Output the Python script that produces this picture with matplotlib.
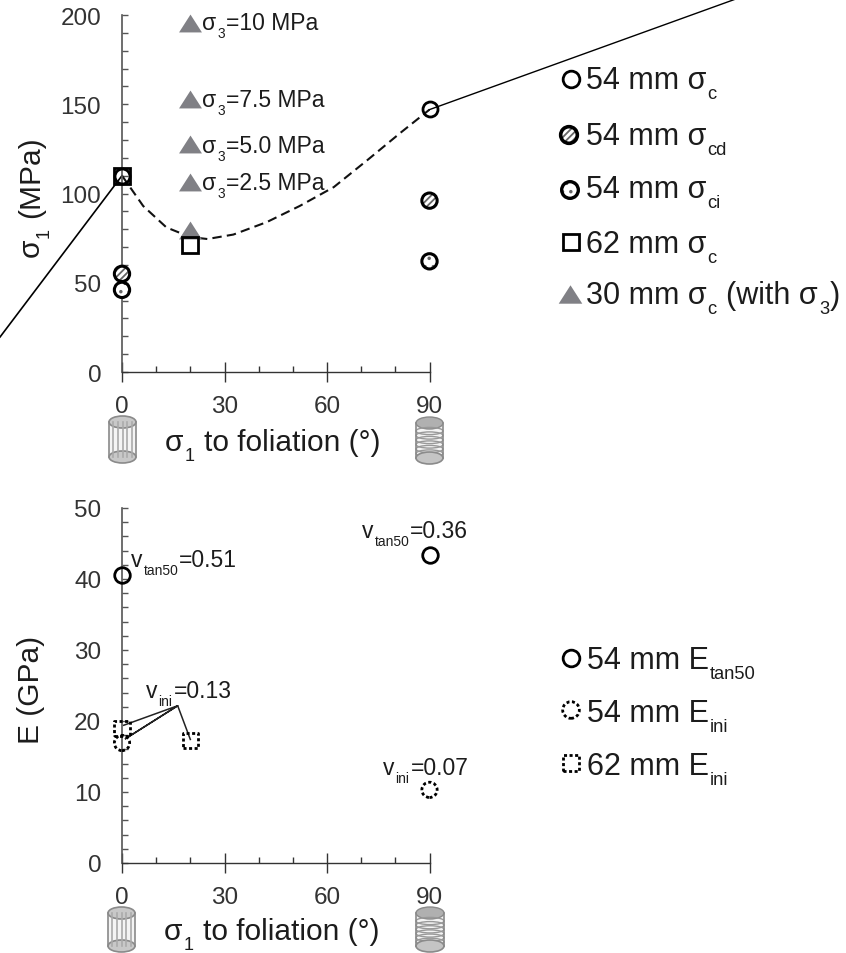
import matplotlib
matplotlib.use('Agg')
import numpy as np
import matplotlib.pyplot as plt
from matplotlib.patches import Ellipse, Rectangle
from matplotlib.ticker import MultipleLocator

plt.rcParams['font.family'] = ['Liberation Sans', 'DejaVu Sans']
plt.rcParams['hatch.linewidth'] = 1.3

# upper panel
s_c_54_x = [0, 90]
s_c_54_y = [110, 147.5]
s_cd_54_x = [0, 90]
s_cd_54_y = [55, 96]
s_ci_54_x = [0, 90]
s_ci_54_y = [46, 62]
s_c_62_x = [0, 20]
s_c_62_y = [110, 71]
tri_x = [20, 20, 20, 20, 20]
tri_y = [79.6, 106.7, 128, 153, 195.5]
curve_x = [0, 6.2, 13, 20, 25, 32.6, 42.4, 52, 62, 72, 81.5, 90]
curve_y = [110, 93, 81, 75.6, 74.5, 77, 84, 93, 103.6, 119, 134, 147]
env_left_x = [-35.7, 0]
env_left_y = [19.6, 110]
env_right_x = [90, 179.7]
env_right_y = [147, 209]

# lower panel
e_tan_x = [0, 90]
e_tan_y = [40.6, 43.4]
e_ini_54_x = [0, 90]
e_ini_54_y = [16.9, 10.3]
e_ini_62_x = [0, 20]
e_ini_62_y = [18.9, 17.3]
lead_x = [0.5, 16.3, 1, 16.3, 20]
lead_y = [19.4, 22.15, 17.5, 22.15, 17.4]

x_ticks = [0, 30, 60, 90]

# text pieces: plain string, or (string,) for a subscript
tri_labels = [['σ', ('3',), '=10 MPa'], ['σ', ('3',), '=7.5 MPa'],
              ['σ', ('3',), '=5.0 MPa'], ['σ', ('3',), '=2.5 MPa']]
upper_legend = [['54 mm σ', ('c',)], ['54 mm σ', ('cd',)], ['54 mm σ', ('ci',)],
                ['62 mm σ', ('c',)], ['30 mm σ', ('c',), ' (with σ', ('3',), ')']]
lower_legend = [['54 mm E', ('tan50',)], ['54 mm E', ('ini',)], ['62 mm E', ('ini',)]]
x_caption = ['σ', ('1',), ' to foliation (°)']

text_col = '#1c1c1c'
ax_col = '#555555'
tri_col = '#808085'
tri_marker = [(-1, -0.78), (1, -0.78), (0, 0.78)]

fig = plt.figure(figsize=(8.46, 9.54), dpi=100)
ax1 = fig.add_axes([122 / 846, 1 - 373 / 954, 307.5 / 846, 357 / 954])
ax2 = fig.add_axes([122 / 846, 1 - 864 / 954, 307.5 / 846, 355 / 954])
over = fig.add_axes([0, 0, 1, 1], zorder=5)
over.set_xlim(0, 846)
over.set_ylim(954, 0)
over.axis('off')
renderer = fig.canvas.get_renderer()


def put_text(x, y, parts, size, vertical=False):
    # baseline text made of pieces, subscripts smaller and lower (pixel coords)
    em = size * 100 / 72
    pos = 0
    for part in parts:
        is_sub = isinstance(part, tuple)
        s = part[0] if is_sub else part
        fs = size * 0.6 if is_sub else size
        drop = em * 0.33 if is_sub else 0
        if s.startswith(' '):
            pos += em * 0.278
            s = s[1:]
        if vertical:
            t = over.text(x + drop, y - pos, s, fontsize=fs, color=text_col, rotation=90,
                          rotation_mode='anchor', ha='left', va='baseline')
            pos += t.get_window_extent(renderer).height + 1
        else:
            t = over.text(x + pos, y + drop, s, fontsize=fs, color=text_col,
                          ha='left', va='baseline')
            pos += t.get_window_extent(renderer).width + 1


def style_axis(ax, ymax, ymajor, yminor):
    ax.set_xlim(0, 90)
    ax.set_ylim(0, ymax)
    ax.patch.set_alpha(0)
    ax.spines['top'].set_visible(False)
    ax.spines['right'].set_visible(False)
    ax.spines['left'].set_color(ax_col)
    ax.spines['left'].set_linewidth(1.2)
    ax.spines['bottom'].set_color('#333333')
    ax.spines['bottom'].set_linewidth(1.0)
    ax.set_xticks(x_ticks)
    ax.xaxis.set_minor_locator(MultipleLocator(10))
    ax.yaxis.set_major_locator(MultipleLocator(ymajor))
    ax.yaxis.set_minor_locator(MultipleLocator(yminor))
    ax.tick_params(axis='y', which='both', direction='in', length=4.5, width=1.0,
                   color=ax_col, labelsize=17.5, labelcolor='#333333', pad=15)
    ax.tick_params(axis='x', which='major', direction='inout', length=14, width=1.0,
                   color='#333333', labelsize=17.5, labelcolor='#333333', pad=9.5)
    ax.tick_params(axis='x', which='minor', direction='in', length=4.5, width=1.0,
                   color='#333333')


def hollow(ax, x, y, marker='o', size=10.8, lw=2.0):
    ax.plot(x, y, ls='none', marker=marker, ms=size, mfc='none', mec='black',
            mew=lw, clip_on=False, zorder=4)


def dotted(ax, x, y, marker='o', size=11):
    ax.scatter(x, y, s=size ** 2, marker=marker, facecolor='none', edgecolor='black',
               linewidth=2.0, linestyle=(0, (1.1, 0.9)), clip_on=False, zorder=4)


def filled(ax, x, y, hatch, size=11, lw=2.2):
    ax.scatter(x, y, s=size ** 2, marker='o', facecolor='white', edgecolor='#666666',
               hatch=hatch, linewidth=0, clip_on=False, zorder=4)
    ax.scatter(x, y, s=size ** 2, marker='o', facecolor='none', edgecolor='black',
               linewidth=lw, clip_on=False, zorder=4)


def cylinder(ax, x0, x1, y0, y1, rings):
    cx = (x0 + x1) / 2
    w = x1 - x0
    eh = 12
    ax.add_patch(Rectangle((x0, y0 + eh / 2), w, y1 - y0 - eh, fc='#f4f4f4', ec='none'))
    if rings:
        ax.add_patch(Ellipse((cx, y0 + eh / 2), w, eh, fc='#b0b0b0', ec='#8a8a8a', lw=1))
        for yy in np.linspace(y0 + eh + 2, y1 - eh / 2, 7):
            ax.add_patch(Ellipse((cx, yy), w, eh * 0.6, fc='none', ec='#999999', lw=1.0))
        ax.add_patch(Ellipse((cx, y1 - eh / 2), w, eh, fc='#c4c4c4', ec='#8a8a8a', lw=1.2))
    else:
        for xx in np.linspace(x0 + 4, x1 - 4, 5):
            ax.plot([xx, xx], [y0 + eh / 2, y1 - eh / 2], color='#aaaaaa', lw=1.2)
        ax.add_patch(Ellipse((cx, y1 - eh / 2), w, eh, fc='#c8c8c8', ec='#8a8a8a', lw=1.2))
        ax.add_patch(Ellipse((cx, y0 + eh / 2), w, eh, fc='#c8c8c8', ec='#8a8a8a', lw=1.2))
    ax.plot([x0, x0], [y0 + eh / 2, y1 - eh / 2], color='#8a8a8a', lw=1.2)
    ax.plot([x1, x1], [y0 + eh / 2, y1 - eh / 2], color='#8a8a8a', lw=1.2)


# upper chart
style_axis(ax1, 200, 50, 10)
ax1.plot(curve_x, curve_y, color='#111111', lw=1.5, ls=(0, (4.5, 2.5)), zorder=2)
ax1.plot(env_left_x, env_left_y, color='black', lw=1.2, clip_on=False, zorder=2)
ax1.plot(env_right_x, env_right_y, color='black', lw=1.0, clip_on=False, zorder=2)
ax1.plot(tri_x, tri_y, ls='none', marker=tri_marker, ms=16.5, mfc=tri_col, mec='none',
         clip_on=False, zorder=3)
hollow(ax1, s_c_54_x, s_c_54_y)
filled(ax1, s_cd_54_x, s_cd_54_y, '/////')
filled(ax1, s_ci_54_x, s_ci_54_y, '..')
hollow(ax1, s_c_62_x, s_c_62_y, marker='s', size=11.5)
for parts, yy in zip(tri_labels, [30, 107, 153, 190]):
    put_text(202, yy, parts, 16.5)

# lower chart
style_axis(ax2, 50, 10, 2)
hollow(ax2, e_tan_x, e_tan_y, size=11.2)
dotted(ax2, e_ini_54_x, e_ini_54_y)
dotted(ax2, e_ini_62_x, e_ini_62_y, marker='s', size=11)
ax2.plot(lead_x, lead_y, color='#222222', lw=1.1, zorder=3)
put_text(131, 567, ['v', ('tan50',), '=0.51'], 16.5)
put_text(362, 538, ['v', ('tan50',), '=0.36'], 16.5)
put_text(146, 698, ['v', ('ini',), '=0.13'], 16.5)
put_text(383, 775, ['v', ('ini',), '=0.07'], 16.5)

# legends
for parts, yy in zip(upper_legend, [89, 145, 198, 253, 304]):
    put_text(586, yy, parts, 22)
for parts, yy in zip(lower_legend, [669, 722, 775]):
    put_text(587, yy, parts, 22)

hollow(over, [571], [80], size=12, lw=2.0)
filled(over, [569], [136], '/////', size=12, lw=2.6)
filled(over, [570], [191], '..', size=12, lw=2.4)
hollow(over, [571], [243], marker='s', size=11.5, lw=2.0)
over.plot([570], [295], ls='none', marker=tri_marker, ms=17, mfc=tri_col, mec='none')
hollow(over, [571], [659], size=12, lw=2.0)
dotted(over, [571], [711], size=12)
dotted(over, [571], [764], marker='s', size=11)

# axis captions
put_text(165, 451, x_caption, 21.5)
put_text(164, 940, x_caption, 21.5)
put_text(39, 257, ['σ', ('1',), ' (MPa)'], 21.5, vertical=True)
put_text(39, 744, ['E (GPa)'], 21.5, vertical=True)

cylinder(over, 109, 136, 417, 464, False)
cylinder(over, 416, 443, 418, 465, True)
cylinder(over, 108, 135, 908, 953, False)
cylinder(over, 416, 444, 908, 953, True)

fig.savefig('out.png', dpi=100)
